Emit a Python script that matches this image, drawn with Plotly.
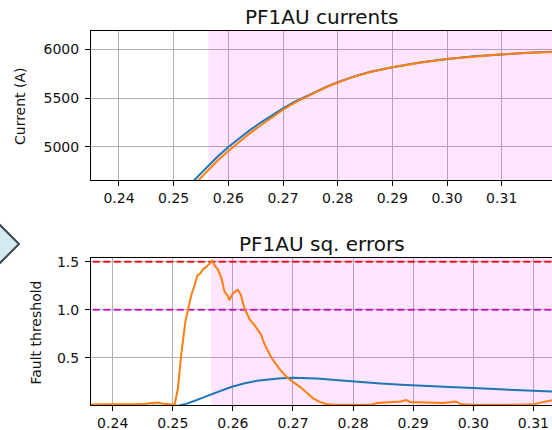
import plotly.graph_objects as go

# ---------------- data ----------------
cur_x_blue = [0.250, 0.252, 0.254, 0.256, 0.258, 0.260, 0.262, 0.264, 0.266, 0.268,
              0.270, 0.272, 0.274, 0.276, 0.278, 0.280, 0.283, 0.286, 0.290, 0.295,
              0.300, 0.305, 0.310, 0.315, 0.320]
cur_y_blue = [4450, 4562, 4680, 4793, 4900, 5000, 5092, 5175, 5252, 5325,
              5395, 5457, 5512, 5565, 5615, 5662, 5720, 5768, 5815, 5862,
              5899, 5926, 5948, 5963, 5973]
cur_x_orange = cur_x_blue
cur_y_orange = [4400, 4515, 4635, 4752, 4860, 4960, 5055, 5142, 5225, 5305,
                5380, 5447, 5506, 5561, 5612, 5658, 5718, 5766, 5813, 5860,
                5898, 5925, 5947, 5962, 5972]

err_x_blue = [0.236, 0.240, 0.245, 0.250, 0.251, 0.252, 0.253, 0.254, 0.255, 0.256,
              0.257, 0.258, 0.259, 0.260, 0.262, 0.264, 0.266, 0.268, 0.270, 0.272,
              0.274, 0.276, 0.278, 0.280, 0.284, 0.288, 0.292, 0.296, 0.300, 0.304,
              0.308, 0.312, 0.314]
err_y_blue = [0.0, 0.0, 0.0, 0.0, 0.003, 0.015, 0.035, 0.06, 0.085, 0.11,
              0.135, 0.16, 0.18, 0.20, 0.235, 0.26, 0.277, 0.287, 0.292, 0.29,
              0.284, 0.275, 0.264, 0.252, 0.235, 0.22, 0.205, 0.195, 0.184, 0.172,
              0.162, 0.15, 0.145]

err_x_orange = [0.2360, 0.2380, 0.2400, 0.2420, 0.2440, 0.2455, 0.2465, 0.2475, 0.2485, 0.2495,
                0.2503, 0.25085, 0.2514, 0.2521, 0.2526, 0.2531, 0.2535, 0.2541, 0.2546, 0.2550,
                0.2556, 0.2561, 0.2566, 0.2569, 0.2575, 0.2581, 0.2586, 0.2592, 0.2594, 0.2600,
                0.2605, 0.2608, 0.2613, 0.2619, 0.2628, 0.2636, 0.2647, 0.2652, 0.2664, 0.2678,
                0.2691, 0.2700, 0.2711, 0.2722, 0.2733, 0.2744, 0.2755, 0.2766, 0.2800, 0.2830,
                0.2840, 0.2860, 0.2880, 0.2888, 0.2895, 0.2920, 0.2950, 0.2965, 0.2971, 0.2980,
                0.3000, 0.3050, 0.3098, 0.3110, 0.3129, 0.3140]
err_y_orange = [0.012, 0.012, 0.013, 0.014, 0.018, 0.022, 0.030, 0.035, 0.020, 0.012,
                0.010, 0.18, 0.53, 0.88, 1.03, 1.16, 1.23, 1.36, 1.38, 1.42,
                1.45, 1.48, 1.51, 1.47, 1.42, 1.33, 1.19, 1.14, 1.10, 1.17,
                1.19, 1.21, 1.16, 1.02, 0.90, 0.84, 0.74, 0.65, 0.50, 0.38,
                0.29, 0.25, 0.20, 0.14, 0.08, 0.04, 0.018, 0.010, 0.008, 0.010,
                0.030, 0.035, 0.045, 0.060, 0.040, 0.035, 0.030, 0.040, 0.045, 0.015,
                0.010, 0.010, 0.012, 0.030, 0.060, 0.070]

fault_start = 0.25635
thresholds = [1.5, 1.0]
threshold_colors = ["#e41a1c", "#c020c0"]

x_ticks = [0.24, 0.25, 0.26, 0.27, 0.28, 0.29, 0.30, 0.31]
cur_y_ticks = [5000, 5500, 6000]
err_y_ticks = [0.5, 1.0, 1.5]

BLUE = "#1f77b4"
ORANGE = "#ff7f0e"
FONT = "DejaVu Sans"

fig = go.Figure()
# threshold lines (drawn first, under the data lines)
for t, c in zip(thresholds, threshold_colors):
    fig.add_trace(go.Scatter(x=[0.2, 0.4], y=[t, t], mode="lines",
                             line=dict(color=c, width=2, dash="7px,3.5px"),
                             xaxis="x2", yaxis="y2"))
fig.add_trace(go.Scatter(x=cur_x_blue, y=cur_y_blue, mode="lines",
                         line=dict(color=BLUE, width=2), xaxis="x", yaxis="y"))
fig.add_trace(go.Scatter(x=cur_x_orange, y=cur_y_orange, mode="lines",
                         line=dict(color=ORANGE, width=2), xaxis="x", yaxis="y"))
fig.add_trace(go.Scatter(x=err_x_blue, y=err_y_blue, mode="lines",
                         line=dict(color=BLUE, width=2), xaxis="x2", yaxis="y2"))
fig.add_trace(go.Scatter(x=err_x_orange, y=err_y_orange, mode="lines",
                         line=dict(color=ORANGE, width=2), xaxis="x2", yaxis="y2"))

shapes = []
shapes.append(dict(type="rect", xref="x", yref="y", x0=fault_start, x1=0.34,
                   y0=4000, y1=7000, fillcolor="rgba(255,0,255,0.1)",
                   line=dict(width=0), layer="between"))
shapes.append(dict(type="rect", xref="x2", yref="y2", x0=fault_start, x1=0.34,
                   y0=-1, y1=3, fillcolor="rgba(255,0,255,0.1)",
                   line=dict(width=0), layer="between"))
# decorative arrow at left edge
shapes.append(dict(type="path", xref="paper", yref="paper",
                   path="M -0.2191,0.508 L -0.1562,0.4305 L -0.2191,0.3529 Z",
                   fillcolor="#d3eaf2", line=dict(color="#3b474d", width=2),
                   layer="above"))

axis_common = dict(showline=True, linecolor="black", linewidth=1, automargin=False,
                   ticks="outside", ticklen=5, tickcolor="black", tickwidth=1,
                   showgrid=True, gridcolor="#b0b0b0", gridwidth=1,
                   zeroline=False, tickfont=dict(family=FONT, size=14, color="#111"))

fig.update_layout(
    width=552, height=430,
    margin=dict(l=91, r=0, t=31, b=25, autoexpand=False),
    paper_bgcolor="white", plot_bgcolor="white",
    showlegend=False,
    shapes=shapes,
    xaxis=dict(anchor="y", domain=[0, 1], range=[0.23488, 0.3192],
               tickvals=x_ticks, tickformat=".2f", mirror=True, **axis_common),
    yaxis=dict(anchor="x", domain=[0.6016, 1], range=[4663, 6184],
               tickvals=cur_y_ticks, ticklabelstandoff=3, **axis_common),
    xaxis2=dict(anchor="y2", domain=[0, 1], range=[0.23639, 0.3131],
                tickvals=x_ticks, tickformat=".2f", mirror=True, **axis_common),
    yaxis2=dict(anchor="x2", domain=[0, 0.393], range=[0.008, 1.54],
                tickvals=err_y_ticks, tickformat=".1f", ticklabelstandoff=3,
                **axis_common),
    annotations=[
        dict(text="PF1AU currents", xref="paper", yref="paper", x=0.5, y=1.0374,
             xanchor="center", yanchor="middle", showarrow=False,
             font=dict(family=FONT, size=20, color="#111")),
        dict(text="PF1AU sq. errors", xref="paper", yref="paper", x=0.5, y=0.4305,
             xanchor="center", yanchor="middle", showarrow=False,
             font=dict(family=FONT, size=20, color="#111")),
        dict(text="Current (A)", xref="paper", yref="paper", x=-0.154, y=0.7995,
             xanchor="center", yanchor="middle", showarrow=False, textangle=-90,
             font=dict(family=FONT, size=14, color="#111")),
        dict(text="Fault threshold", xref="paper", yref="paper", x=-0.1204, y=0.1952,
             xanchor="center", yanchor="middle", showarrow=False, textangle=-90,
             font=dict(family=FONT, size=14, color="#111")),
    ],
)

fig.write_html("out.html")
